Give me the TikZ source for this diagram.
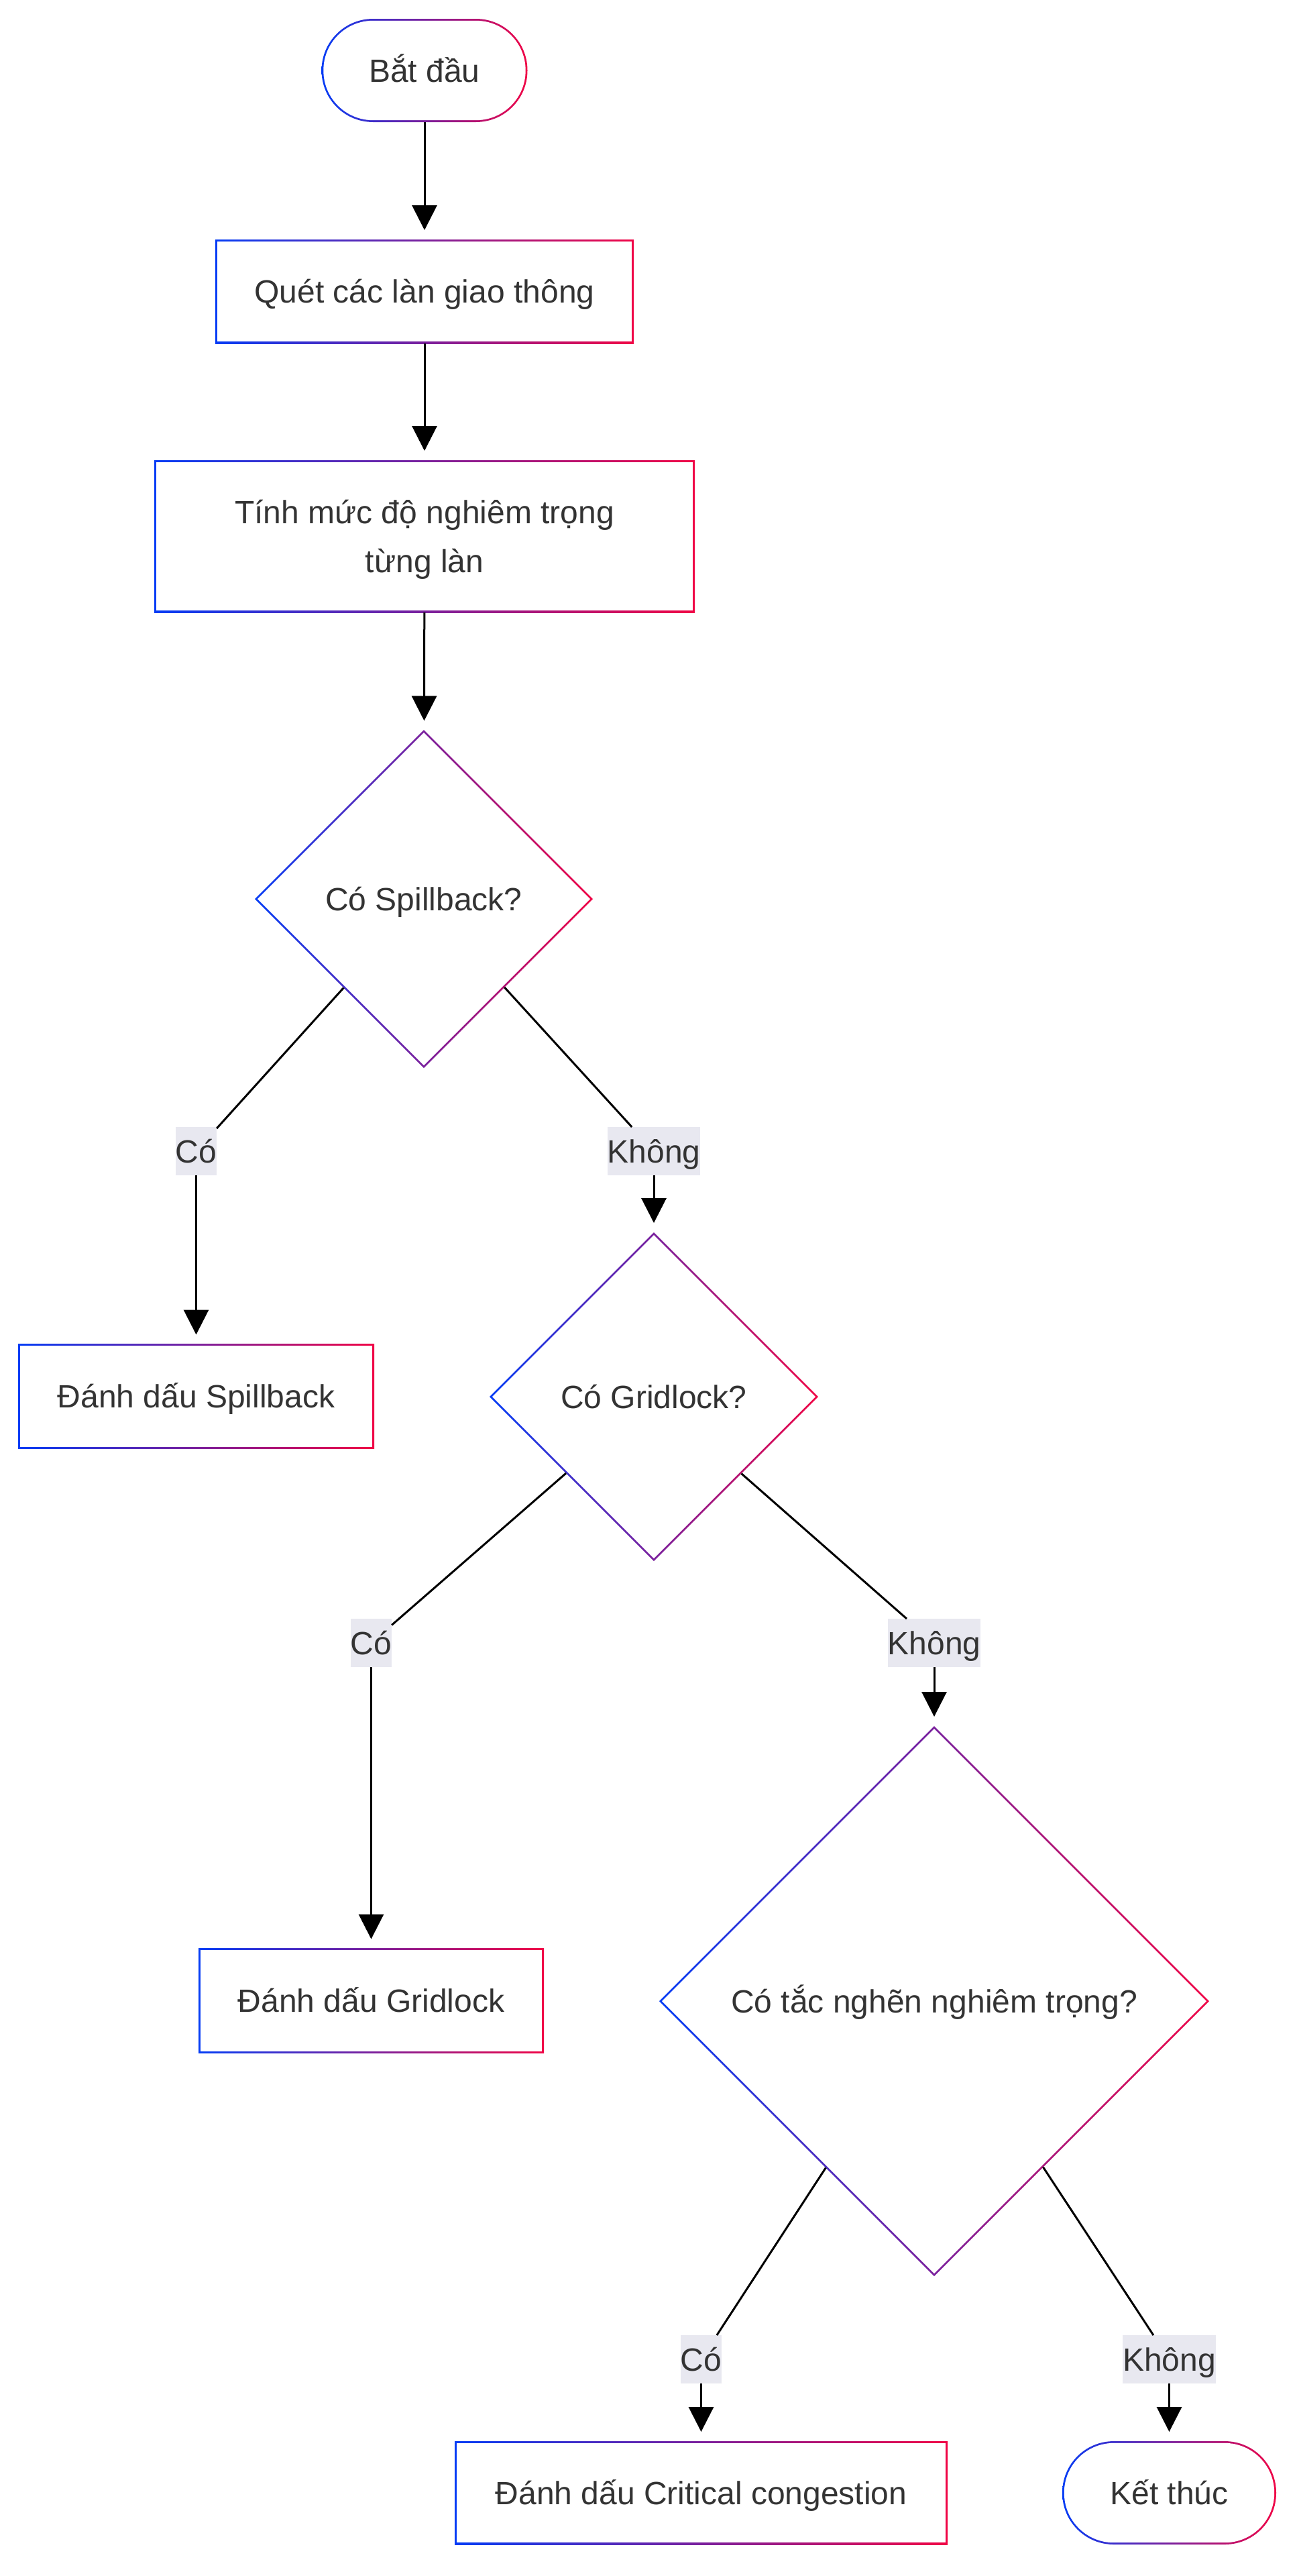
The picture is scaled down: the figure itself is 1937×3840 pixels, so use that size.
\documentclass[tikz,border=0pt]{standalone}
\usepackage{fontspec}
\setmainfont{Liberation Sans}
\usetikzlibrary{shapes.geometric,arrows.meta}
\pgfdeclarelayer{bg}
\pgfdeclarelayer{back}
\pgfsetlayers{back,bg,main}
\definecolor{cB}{RGB}{5,60,245}
\definecolor{cR}{RGB}{240,5,70}
\definecolor{txt}{RGB}{51,51,51}
\definecolor{lab}{RGB}{232,232,240}
\tikzset{
  base/.style={inner sep=0pt, outer sep=0pt, text=txt, font=\fontsize{24pt}{36.5pt}\selectfont},
  oneline/.style={text height=22.2pt, text depth=5pt},
  proc/.style={base, oneline, rectangle, minimum height=78pt},
  pill/.style={base, oneline, rectangle, minimum height=77pt},
  decision/.style={base, oneline, diamond, shape aspect=1},
  lbl/.style={base, oneline, rectangle, fill=lab, minimum height=36pt},
  line/.style={draw=black, line width=1.5pt},
  conn/.style={line, -{Triangle[length=18.5pt,width=18.5pt]}, shorten >=7pt}
}
\newcommand{\gradrect}[1]{%
  \shade[left color=cB,right color=cR] (#1.north west) rectangle (#1.south east);
  \fill[white] ([shift={(1.4pt,-1.4pt)}]#1.north west) rectangle ([shift={(-1.4pt,1.4pt)}]#1.south east);
}
\newcommand{\gradpill}[1]{%
  \shade[left color=cB,right color=cR,rounded corners=38.4pt] (#1.north west) rectangle (#1.south east);
  \fill[white,rounded corners=37pt] ([shift={(1.4pt,-1.4pt)}]#1.north west) rectangle ([shift={(-1.4pt,1.4pt)}]#1.south east);
}
\newcommand{\graddia}[1]{%
  \shade[left color=cB,right color=cR] (#1.north) -- (#1.east) -- (#1.south) -- (#1.west) -- cycle;
  \fill[white] ([yshift=-2pt]#1.north) -- ([xshift=-2pt]#1.east) -- ([yshift=2pt]#1.south) -- ([xshift=2pt]#1.west) -- cycle;
}
\begin{document}
\begin{tikzpicture}[x=0.5pt,y=-0.5pt]
\begin{pgfonlayer}{back}
\fill[white] (0,0) rectangle (1937,3840);
\end{pgfonlayer}
\useasboundingbox (0,0) rectangle (1937,3840);

% nodes
\node[pill, minimum width=153.5pt] (start) at (633,105) {Bắt đầu};
\node[proc, minimum width=312pt, minimum height=77.5pt] (scan) at (633,434.5) {Quét các làn giao thông};
\node[base, rectangle, align=center, minimum width=403pt, minimum height=113.5pt] (calc) at (633,799.5)
  {\rule{0pt}{22.2pt}Tính mức độ nghiêm trọng\\từng làn\rule[-5pt]{0pt}{5pt}};
\node[decision, minimum width=252pt, minimum height=252pt] (d1) at (632,1340) {Có Spillback?};
\node[proc, minimum width=265.5pt] (spill) at (292.5,2081.5) {Đánh dấu Spillback};
\node[decision, minimum width=245pt, minimum height=245pt] (d2) at (975,2082) {Có Gridlock?};
\node[proc, minimum width=257.5pt] (grid) at (553.5,2982.5) {Đánh dấu Gridlock};
\node[decision, minimum width=410pt, minimum height=410pt] (d3) at (1393,2983) {Có tắc nghẽn nghiêm trọng?};
\node[proc, minimum width=367.5pt, minimum height=77pt] (crit) at (1045.5,3716) {Đánh dấu Critical congestion};
\node[pill, minimum width=159.5pt] (stop) at (1743.5,3716) {Kết thúc};

% edge labels
\node[lbl] (l1) at (292.5,1716) {Có};
\node[lbl] (l2) at (975,1716) {Không};
\node[lbl] (l3) at (553.5,2449) {Có};
\node[lbl] (l4) at (1393,2449) {Không};
\node[lbl] (l5) at (1045.5,3517) {Có};
\node[lbl] (l6) at (1743.5,3517) {Không};

% gradient borders
\begin{pgfonlayer}{bg}
  \gradpill{start}
  \gradrect{scan}
  \gradrect{calc}
  \graddia{d1}
  \gradrect{spill}
  \graddia{d2}
  \gradrect{grid}
  \graddia{d3}
  \gradrect{crit}
  \gradpill{stop}
\end{pgfonlayer}

% connectors
\draw[conn] (start) -- (scan);
\draw[conn] (scan) -- (calc);
\draw[conn] (calc) -- (d1);
\draw[line] (d1) -- (l1);
\draw[conn] (l1) -- (spill);
\draw[line] (d1) -- (l2);
\draw[conn] (l2) -- (d2);
\draw[line] (d2) -- (l3);
\draw[conn] (l3) -- (grid);
\draw[line] (d2) -- (l4);
\draw[conn] (l4) -- (d3);
\draw[line] (d3) -- (l5);
\draw[conn] (l5) -- (crit);
\draw[line] (d3) -- (l6);
\draw[conn] (l6) -- (stop);
\end{tikzpicture}
\end{document}
